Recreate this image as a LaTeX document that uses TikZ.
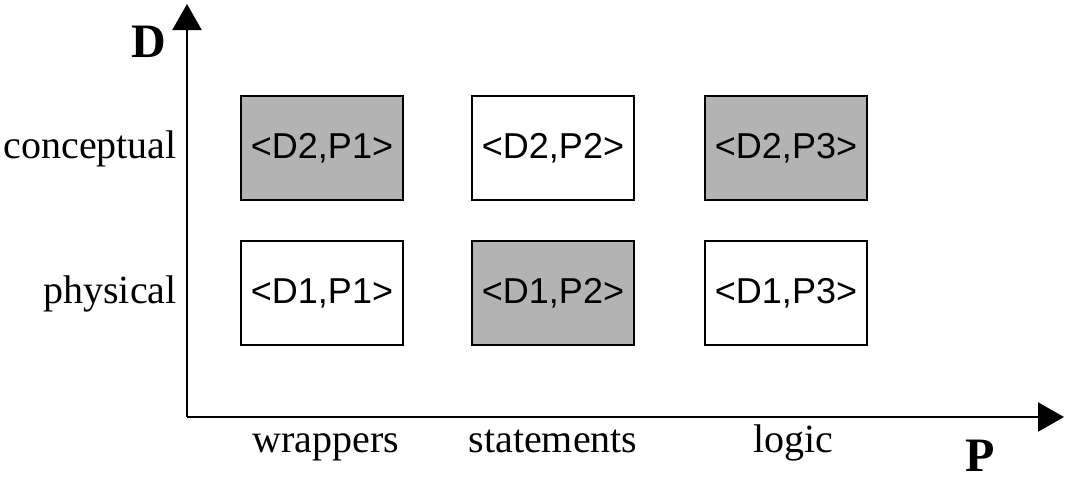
\documentclass[tikz,border=0pt]{standalone}
\usepackage{fontspec}
\setmainfont{Liberation Serif}
\newfontfamily\cellfont{Liberation Sans}
\usetikzlibrary{arrows.meta}
\definecolor{cellgray}{HTML}{B3B3B3}
\begin{document}
\begin{tikzpicture}[x=0.75pt,y=-0.75pt,
  axis/.style={line width=1.65pt,-{Triangle[length=19.5pt,width=21.75pt]}},
  cell/.style={draw,line width=1.5pt,minimum width=121.5pt,minimum height=78pt,
    inner sep=0pt,font=\cellfont\fontsize{27}{32}\selectfont},
  shaded/.style={cell,fill=cellgray},
  plain/.style={cell,fill=white},
  lbl/.style={inner sep=0pt,font=\fontsize{30}{36}\selectfont},
  axlbl/.style={inner sep=0pt,font=\bfseries\fontsize{36}{42}\selectfont}]
\useasboundingbox (0,0) rectangle (1069,479);
% axes
\coordinate (O) at (187,417);
\coordinate (Dtip) at (187,4);
\coordinate (Ptip) at (1064,417);
\draw[axis] (O) -- (Dtip);
\draw[axis] (O) -- (Ptip);
\node[axlbl,anchor=base] (Dlab) at (149,57) {D};
\node[axlbl,anchor=base] (Plab) at (980,471) {P};
% row labels
\node[lbl,anchor=base east] (conc) at (177,158) {conceptual};
\node[lbl,anchor=base east] (phys) at (177,303) {physical};
% column labels
\node[lbl,anchor=base] (wrap) at (326,452) {wrappers};
\node[lbl,anchor=base] (stmt) at (553,452) {statements};
\node[lbl,anchor=base] (logc) at (793,452) {logic};
% cells
\node[shaded] (d2p1) at (322,148) {<D2,P1>};
\node[plain]  (d2p2) at (553,148) {<D2,P2>};
\node[shaded] (d2p3) at (786,148) {<D2,P3>};
\node[plain]  (d1p1) at (322,293) {<D1,P1>};
\node[shaded] (d1p2) at (553,293) {<D1,P2>};
\node[plain]  (d1p3) at (786,293) {<D1,P3>};
\end{tikzpicture}
\end{document}
